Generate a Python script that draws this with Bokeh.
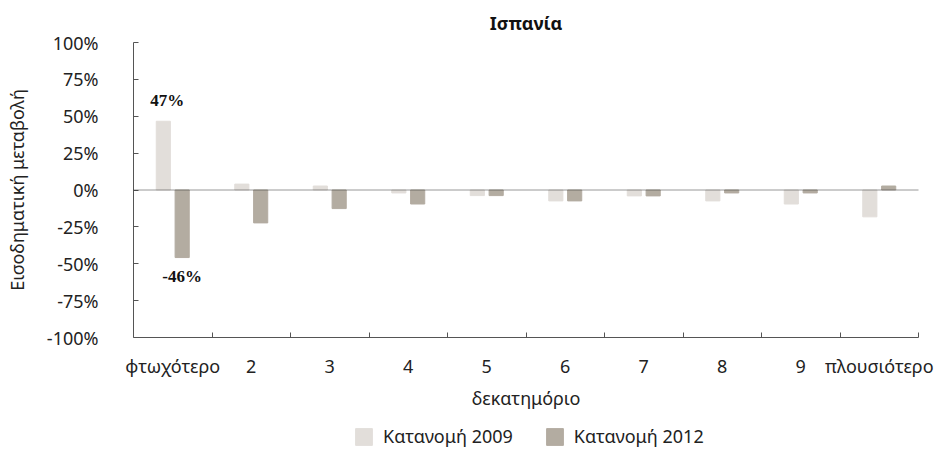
from bokeh.plotting import figure
from bokeh.models import (ColumnDataSource, FixedTicker, Span, Legend, LegendItem,
                          LabelSet, Range1d)
from bokeh.layouts import column
from bokeh.embed import file_html
from bokeh.resources import INLINE

categories = ["φτωχότερο", "2", "3", "4", "5", "6", "7", "8", "9", "πλουσιότερο"]
dist_2009 = [46.6, 4.0, 2.7, -2.0, -3.8, -7.4, -4.0, -7.4, -9.5, -18.2]
dist_2012 = [-45.8, -22.3, -12.6, -9.5, -3.8, -7.4, -4.0, -2.0, -2.0, 2.7]
series_names = ["Κατανομή 2009", "Κατανομή 2012"]
annot_values = [47, -46]
y_ticks = [-100, -75, -50, -25, 0, 25, 50, 75, 100]

FONT = "Noto Sans"
FS = "18px"
C09 = "#e2deda"
C12 = "#b3aca1"
AXC = "#555555"
TXT = "#222222"

n = len(categories)
centers = [i + 0.5 for i in range(n)]
off = 0.12
src09 = ColumnDataSource(dict(x=[c - off for c in centers], top=dist_2009))
src12 = ColumnDataSource(dict(x=[c + off for c in centers], top=dist_2012))

p = figure(width=935, height=420, output_backend="svg", toolbar_location=None,
           x_range=Range1d(0, n), y_range=Range1d(-100, 100),
           min_border_left=133, min_border_right=17, min_border_top=42, min_border_bottom=83)
p.title.text = "Ισπανία"
p.title.align = "center"
p.title.text_font = FONT
p.title.text_font_size = "18px"
p.title.text_font_style = "bold"
p.title.text_color = "#111111"
p.title.standoff = 16
p.outline_line_color = None
p.xgrid.grid_line_color = None
p.ygrid.grid_line_color = None

r09 = p.vbar(x="x", top="top", bottom=0, width=0.18, source=src09, color=C09)
r12 = p.vbar(x="x", top="top", bottom=0, width=0.18, source=src12, color=C12)

p.add_layout(Span(location=0, dimension="width", line_color="#333333",
                  line_dash="1 1", line_width=1))

# annotations from data
ann = ColumnDataSource(dict(
    x=[centers[0] - off + 0.05, centers[0] + off],
    y=[dist_2009[0], dist_2012[0]],
    text=[f"{v}%" for v in annot_values],
    yoff=[11, -9],
    base=["bottom", "top"]))
p.add_layout(LabelSet(x="x", y="y", text="text", source=ann, y_offset="yoff",
                      text_align="center", text_baseline="base",
                      text_font=FONT, text_font_size="17px", text_font_style="bold",
                      text_color="#111111"))

# x axis
xa = p.xaxis[0]
xa.ticker = FixedTicker(ticks=centers, minor_ticks=list(range(1, n + 1)))
xa.major_label_overrides = {c: lab for c, lab in zip(centers, categories)}
xa.major_tick_line_color = None
xa.minor_tick_in = 5
xa.minor_tick_out = 0
xa.minor_tick_line_color = AXC
xa.axis_line_color = AXC
xa.major_label_text_font = FONT
xa.major_label_text_font_size = FS
xa.major_label_text_color = TXT
xa.major_label_standoff = 10
xa.axis_label = "δεκατημόριο"
xa.axis_label_text_font = FONT
xa.axis_label_text_font_size = FS
xa.axis_label_text_font_style = "normal"
xa.axis_label_text_color = TXT
xa.axis_label_standoff = 5

ya = p.yaxis[0]
ya.ticker = FixedTicker(ticks=y_ticks, minor_ticks=[])
ya.major_label_overrides = {t: f"{t}%" for t in y_ticks}
ya.major_tick_in = 5
ya.major_tick_out = 0
ya.major_tick_line_color = AXC
ya.minor_tick_line_color = None
ya.axis_line_color = AXC
ya.major_label_text_font = FONT
ya.major_label_text_font_size = FS
ya.major_label_text_color = TXT
ya.major_label_standoff = 35
ya.axis_label = "Εισοδηματική μεταβολή"
ya.axis_label_text_font = FONT
ya.axis_label_text_font_size = FS
ya.axis_label_text_font_style = "normal"
ya.axis_label_text_color = TXT
ya.axis_label_standoff = 15

# legend strip below the chart (proxy renderers share the data, kept out of view)
p2 = figure(width=935, height=30, output_backend="svg", toolbar_location=None,
            x_range=Range1d(0, n), y_range=Range1d(1000, 1001),
            min_border=0, min_border_left=0, min_border_right=0,
            min_border_top=0, min_border_bottom=0)
p2.axis.visible = False
p2.grid.visible = False
p2.outline_line_color = None
l09 = p2.vbar(x="x", top="top", bottom=0, width=0.18, source=src09, color=C09)
l12 = p2.vbar(x="x", top="top", bottom=0, width=0.18, source=src12, color=C12)
legend = Legend(items=[LegendItem(label=series_names[0], renderers=[l09]),
                       LegendItem(label=series_names[1], renderers=[l12])],
                orientation="horizontal", location=(220, 2),
                glyph_width=21, glyph_height=21, label_standoff=9, spacing=31,
                label_text_font=FONT, label_text_font_size=FS,
                label_text_color=TXT, border_line_color=None,
                background_fill_alpha=0, padding=0, margin=0)
p2.add_layout(legend, "center")

open("out.html", "w").write(file_html(column(p, p2, spacing=0), INLINE))
